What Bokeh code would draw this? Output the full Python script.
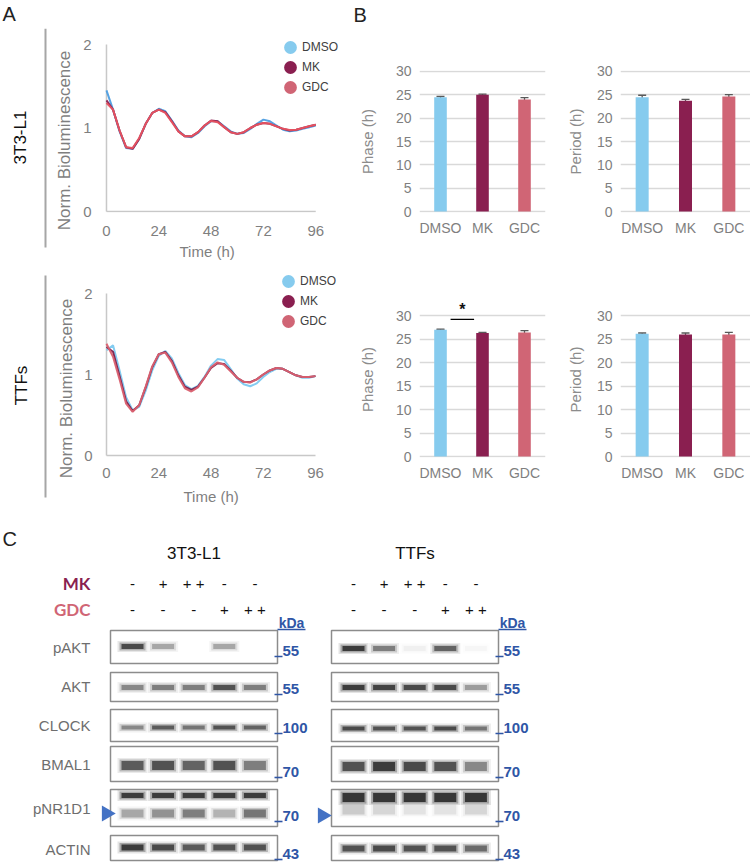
import numpy as np
from bokeh.plotting import figure
from bokeh.layouts import column, row
from bokeh.models import (Range1d, FactorRange, ColumnDataSource, Legend, LegendItem,
                          Whisker, TeeHead, Label, FixedTicker, Title)
from bokeh.core.properties import value
from bokeh.embed import file_html
from bokeh.resources import INLINE

FONT = "Liberation Sans"

# ---------------- data ----------------
time_h = list(range(0, 97, 3))
# 3T3-L1 normalised bioluminescence
l3t3_dmso = [1.45, 1.22, 0.96, 0.76, 0.75, 0.87, 1.05, 1.18, 1.23, 1.20, 1.09, 0.97, 0.90, 0.89, 0.94, 1.02, 1.08,
             1.08, 1.02, 0.96, 0.93, 0.94, 0.99, 1.05, 1.10, 1.08, 1.03, 0.98, 0.96, 0.97, 0.99, 1.01, 1.03]
l3t3_mk = [1.33, 1.22, 0.97, 0.77, 0.75, 0.87, 1.05, 1.18, 1.22, 1.19, 1.08, 0.96, 0.90, 0.90, 0.95, 1.03, 1.09,
           1.08, 1.01, 0.95, 0.93, 0.95, 1.00, 1.04, 1.06, 1.05, 1.02, 0.99, 0.97, 0.98, 1.00, 1.02, 1.04]
l3t3_gdc = [1.30, 1.22, 0.97, 0.77, 0.76, 0.88, 1.05, 1.18, 1.22, 1.18, 1.07, 0.96, 0.90, 0.90, 0.95, 1.03, 1.085,
            1.07, 1.01, 0.95, 0.93, 0.95, 1.00, 1.04, 1.06, 1.05, 1.02, 0.99, 0.975, 0.98, 1.00, 1.02, 1.04]
# TTFs normalised bioluminescence
ttf_dmso = [1.30, 1.36, 1.05, 0.72, 0.56, 0.60, 0.80, 1.05, 1.23, 1.29, 1.20, 1.02, 0.87, 0.82, 0.86, 0.97, 1.11,
            1.19, 1.18, 1.07, 0.95, 0.88, 0.855, 0.89, 0.97, 1.03, 1.07, 1.07, 1.03, 0.99, 0.96, 0.96, 0.98]
ttf_mk = [1.34, 1.28, 0.98, 0.67, 0.55, 0.62, 0.84, 1.09, 1.25, 1.28, 1.17, 0.99, 0.85, 0.81, 0.85, 0.96, 1.08,
          1.14, 1.13, 1.05, 0.96, 0.91, 0.905, 0.94, 1.00, 1.05, 1.08, 1.07, 1.03, 0.99, 0.97, 0.97, 0.98]
ttf_gdc = [1.38, 1.22, 0.94, 0.64, 0.54, 0.62, 0.85, 1.10, 1.25, 1.27, 1.15, 0.97, 0.83, 0.79, 0.84, 0.96, 1.09,
           1.15, 1.12, 1.04, 0.96, 0.91, 0.90, 0.94, 1.00, 1.05, 1.08, 1.07, 1.03, 0.99, 0.97, 0.97, 0.98]
time_ticks = [0, 24, 48, 72, 96]
lum_ticks = [0, 1, 2]

treatments = ["DMSO", "MK", "GDC"]
phase_3t3 = [24.45, 25.0, 24.0]
phase_3t3_err = [0.2, 0.15, 0.4]
period_3t3 = [24.45, 23.7, 24.65]
period_3t3_err = [0.45, 0.3, 0.4]
phase_ttf = [27.0, 26.3, 26.4]
phase_ttf_err = [0.1, 0.1, 0.4]
period_ttf = [26.15, 26.0, 26.0]
period_ttf_err = [0.15, 0.3, 0.45]
hour_ticks = [0, 5, 10, 15, 20, 25, 30]

# Western blot
blot_rows = ["pAKT", "AKT", "CLOCK", "BMAL1", "pNR1D1", "ACTIN"]
kda_marks = ["55", "55", "100", "70", "70", "43"]
mk_signs = ["-", "+", "+ +", "-", "-"]
gdc_signs = ["-", "-", "-", "+", "+ +"]
pakt_3t3 = [0.85, 0.35, 0.0, 0.35, 0.0]
akt_3t3 = [0.5, 0.55, 0.55, 0.8, 0.55]
clock_3t3 = [0.5, 0.75, 0.6, 0.8, 0.7]
bmal1_3t3 = [0.75, 0.8, 0.7, 0.8, 0.55]
pnr1d1_top_3t3 = [0.95, 0.95, 0.95, 0.95, 0.95]
pnr1d1_low_3t3 = [0.35, 0.45, 0.55, 0.3, 0.6]
actin_3t3 = [0.95, 0.85, 0.75, 0.8, 0.8]
pakt_ttf = [0.95, 0.55, 0.05, 0.7, 0.03]
akt_ttf = [0.95, 0.9, 0.85, 0.85, 0.4]
clock_ttf = [0.85, 0.8, 0.8, 0.85, 0.6]
bmal1_ttf = [0.8, 0.95, 0.85, 0.8, 0.5]
pnr1d1_top_ttf = [1.0, 1.0, 1.0, 1.0, 1.0]
pnr1d1_low_ttf = [0.2, 0.15, 0.1, 0.1, 0.15]
actin_ttf = [0.8, 0.85, 0.8, 0.8, 0.65]

# ---------------- styles ----------------
BAR_COLORS = ["#86CBEE", "#8A1F50", "#D06575"]
LINE_TOP = ["#4D9DE0", "#8A1F50", "#E8525F"]
LINE_BOT = ["#7CC9F0", "#7B1C4A", "#D9606F"]
TICK_GRAY = "#7F7F7F"
BLUE = "#2F56A6"


def no_align(p):
    try:
        p.frame_align = False
    except Exception:
        pass


def span(pa, pb, p0, v0, p1, v1):
    k = (v1 - v0) / (p1 - p0)
    return v0 + (pa - p0) * k, v0 + (pb - p0) * k


def blank_fig(w, h, xr, yr):
    p = figure(width=w, height=h, x_range=Range1d(*xr), y_range=Range1d(*yr), min_border=0,
               output_backend="svg", toolbar_location=None, x_axis_location=None, y_axis_location=None)
    p.outline_line_color = None
    p.grid.visible = False
    no_align(p)
    return p


def txt(p, x, y, s, size, color, align="left", style="normal", font=FONT, angle=0.0):
    p.text(x=x, y=y, text=s, text_font=value(font), text_font_size=size, text_color=color,
           text_align=align, text_baseline="middle", text_font_style=style, angle=angle)


def line_fig(fx, w, ry, h, frame, anchors, series, colors, legend_top_left, tick_sd, ytick_sd,
             title_offset, title_standoff):
    fl, fr, ft, fb = frame            # frame edges in page pixels
    px0, px96, py0, py2 = anchors     # page pixels of x=0, x=96, y=0, y=2
    xs, xe = span(fl, fr, px0, 0, px96, 96)
    ys, ye = span(fb, ft, py0, 0, py2, 2)
    p = figure(width=w, height=h, x_range=Range1d(xs, xe), y_range=Range1d(ys, ye),
               output_backend="svg", toolbar_location=None,
               min_border_left=fl - fx, min_border_right=fx + w - fr,
               min_border_top=ft - ry, min_border_bottom=ry + h - fb)
    no_align(p)
    p.outline_line_color = None
    p.grid.visible = False
    p.xaxis.ticker = FixedTicker(ticks=time_ticks)
    p.yaxis.ticker = FixedTicker(ticks=lum_ticks)
    for ax in p.axis:
        ax.axis_line_color = None
        ax.major_tick_line_color = None
        ax.minor_tick_line_color = None
        ax.major_tick_out = 0
        ax.major_tick_in = 0
        ax.major_label_text_font = FONT
        ax.major_label_text_font_size = "15px"
        ax.major_label_text_color = TICK_GRAY
    p.yaxis.major_label_standoff = ytick_sd
    p.xaxis.major_label_standoff = tick_sd
    # x-axis title, positioned under the data extent of the time axis
    p.add_layout(Title(text="Time (h)", align="left", offset=title_offset, standoff=title_standoff,
                       vertical_align="bottom", text_font=FONT, text_font_size="15px",
                       text_color=TICK_GRAY, text_font_style="normal"), "below")
    # axis lines spanning the data extent only
    p.segment(x0=[time_ticks[0], time_ticks[0]], y0=[lum_ticks[0], lum_ticks[0]],
              x1=[time_ticks[0], time_ticks[-1]], y1=[lum_ticks[-1], lum_ticks[0]],
              line_color="#C8C8C8", line_width=1.5)
    for vals, c in zip(series, colors):
        p.line(time_h, vals, line_color=c, line_width=2, line_alpha=0.95)
    leg_r = [p.ellipse(x=[float("nan")], y=[float("nan")], width=12, height=12, width_units="screen",
                       height_units="screen", fill_color=c, line_color=None)
             for c in BAR_COLORS]
    lx, ly = legend_top_left
    legend = Legend(items=[LegendItem(label=n, renderers=[r]) for n, r in zip(treatments, leg_r)],
                    location=(lx - fl, fb - (ly + 56)), glyph_width=16, glyph_height=16, label_height=16,
                    spacing=4, label_standoff=4, padding=0, margin=0, border_line_color=None,
                    background_fill_alpha=0, label_text_font=FONT, label_text_font_size="12px",
                    label_text_color="#404040")
    p.add_layout(legend)
    return p


def bar_fig(w, h, borders, yr, vals, errs, ylabel, lab_sd, sig=None):
    left, right, top, bottom = borders
    src = ColumnDataSource(dict(cat=treatments, val=vals,
                                upper=[v + e for v, e in zip(vals, errs)],
                                lower=[v - e for v, e in zip(vals, errs)],
                                color=BAR_COLORS))
    p = figure(width=w, height=h, x_range=FactorRange(*treatments), y_range=Range1d(*yr),
               output_backend="svg", toolbar_location=None,
               min_border_left=left, min_border_right=right, min_border_top=top, min_border_bottom=bottom)
    no_align(p)
    p.outline_line_color = None
    p.xgrid.visible = False
    p.ygrid.grid_line_color = "#D9D9D9"
    p.ygrid.grid_line_width = 1.3
    p.yaxis.ticker = FixedTicker(ticks=hour_ticks)
    for ax in p.axis:
        ax.axis_line_color = None
        ax.major_tick_line_color = None
        ax.minor_tick_line_color = None
        ax.major_tick_out = 0
        ax.major_tick_in = 0
        ax.major_label_text_font = FONT
        ax.major_label_text_font_size = "14px"
        ax.major_label_text_color = TICK_GRAY
    p.yaxis.major_label_standoff = 8
    p.xaxis.major_label_standoff = 7
    p.yaxis.axis_label = ylabel
    p.yaxis.axis_label_standoff = lab_sd
    p.yaxis.axis_label_text_font = FONT
    p.yaxis.axis_label_text_font_size = "15px"
    p.yaxis.axis_label_text_color = "#8C8C8C"
    p.yaxis.axis_label_text_font_style = "normal"
    p.vbar(x="cat", top="val", width=0.3, fill_color="color", line_color=None, source=src)
    w_ = Whisker(base="cat", upper="upper", lower="lower", source=src, line_color="#595959", line_width=1.3,
                 upper_head=TeeHead(size=8, line_color="#595959", line_width=1.3),
                 lower_head=TeeHead(size=8, line_color="#595959", line_width=1.3))
    p.add_layout(w_)
    if sig is not None:
        a, b, y = sig
        x0 = treatments.index(a) + 0.5 + 0.24
        x1 = treatments.index(b) + 0.5 - 0.2
        p.segment(x0=[x0], y0=[y], x1=[x1], y1=[y], line_color="#000000", line_width=1.3)
        p.add_layout(Label(x=(x0 + x1) / 2, y=y + 2.2, text="*", text_align="center",
                           text_baseline="middle", text_font=FONT, text_font_size="16px",
                           text_font_style="bold", text_color="#111111"))
    return p


# ---------------- top strip (page y 0-28) ----------------
ptop = blank_fig(750, 28, (0, 750), (28, 0))
txt(ptop, [2], [13], ["A"], "20px", "#222222")
txt(ptop, [353], [14], ["B"], "20px", "#222222")

# ---------------- row 1 (page y 28-264) ----------------
ps1 = blank_fig(80, 236, (0, 80), (264, 28))
ps1.segment(x0=[45], y0=[28], x1=[45], y1=[247], line_color="#A6A6A6", line_width=2)
txt(ps1, [20], [137], ["3T3-L1"], "17px", "#111111", align="center", angle=np.pi / 2)
txt(ps1, [64], [140], ["Norm. Bioluminescence"], "17px", TICK_GRAY, align="center", angle=np.pi / 2)

pl1 = line_fig(80, 275, 28, 236, (102, 345, 29, 212), (104, 315, 211, 44),
               [l3t3_dmso, l3t3_mk, l3t3_gdc], LINE_TOP, (280, 39), 13, 13, 75, 4)
pb1 = bar_fig(200, 236, (61, 10, 42, 52), (-0.2, 30.2), phase_3t3, phase_3t3_err, "Phase (h)", 17)
pb2 = bar_fig(195, 236, (65, 0, 42, 52), (-0.2, 30.2), period_3t3, period_3t3_err, "Period (h)", 10)

# ---------------- row 2 (page y 264-520) ----------------
ps2 = blank_fig(80, 256, (0, 80), (520, 264))
ps2.segment(x0=[45], y0=[275], x1=[45], y1=[497], line_color="#A6A6A6", line_width=2)
txt(ps2, [21], [385], ["TTFs"], "17px", "#111111", align="center", angle=np.pi / 2)
txt(ps2, [66], [388], ["Norm. Bioluminescence"], "17px", TICK_GRAY, align="center", angle=np.pi / 2)

pl2 = line_fig(80, 275, 264, 256, (104, 345, 264, 457), (106, 315, 455, 293),
               [ttf_dmso, ttf_mk, ttf_gdc], LINE_BOT, (280, 273), 10, 12, 79, 10)
pb3 = bar_fig(200, 256, (61, 10, 37, 63), (-0.2, 33.0), phase_ttf, phase_ttf_err, "Phase (h)", 17,
              sig=("DMSO", "MK", 29.2))
pb4 = bar_fig(195, 256, (65, 0, 37, 63), (-0.2, 33.0), period_ttf, period_ttf_err, "Period (h)", 10)

# ---------------- blot (panel C, page y 520-863) ----------------
pc = blank_fig(750, 343, (0, 750), (863, 520))
txt(pc, [2], [538], ["C"], "20px", "#222222")

panel_left = [110, 331]
panel_w = 167
panel_names = ["3T3-L1", "TTFs"]
lane_off = [22 + 30.6 * i for i in range(5)]
row_top = [630, 672, 709, 746, 789, 835]
row_bot = [663, 701, 741, 781, 826, 860]
label_y = [647, 686, 725, 764, 808, 849]
tick_y = [656, 694, 733, 777, 821, 859]

txt(pc, [90], [583], ["MK"], "17px", "#8A1F50", align="right", style="bold", font="Lato")
txt(pc, [90], [609], ["GDC"], "17px", "#D06575", align="right", style="bold", font="Lato")
txt(pc, [90] * len(blot_rows), label_y, blot_rows, "15px", "#6E6E6E", align="right")

band_sets = [
    [pakt_3t3, akt_3t3, clock_3t3, bmal1_3t3, pnr1d1_top_3t3, pnr1d1_low_3t3, actin_3t3],
    [pakt_ttf, akt_ttf, clock_ttf, bmal1_ttf, pnr1d1_top_ttf, pnr1d1_low_ttf, actin_ttf],
]
band_y = [[646, 687, 727, 765, 795, 813, 847], [648, 687, 728, 766, 797, 809, 848]]
band_h = [[5, 5, 4, 9, 5, 8, 6], [5, 5, 4, 9, 9, 10, 6]]

bx, by, bw, bh, ba = [], [], [], [], []
for k, pl in enumerate(panel_left):
    lanes = [pl + o for o in lane_off]
    cx = pl + panel_w / 2
    txt(pc, [cx], [553], [panel_names[k]], "17px", "#111111", align="center")
    txt(pc, lanes, [583] * 5, mk_signs, "15px", "#111111", align="center")
    txt(pc, lanes, [609] * 5, gdc_signs, "15px", "#111111", align="center")
    pc.quad(left=[pl] * 6, right=[pl + panel_w] * 6, top=row_top, bottom=row_bot,
            fill_color="#FFFFFF", line_color="#8C8C8C", line_width=1.5)
    kx = pl + panel_w + 14
    txt(pc, [kx], [622], ["kDa"], "14px", BLUE, align="center", style="bold")
    pc.segment(x0=[kx - 14], y0=[629], x1=[kx + 14], y1=[629], line_color=BLUE, line_width=1.5)
    pc.segment(x0=[pl + panel_w - 3] * 6, y0=tick_y, x1=[pl + panel_w + 5] * 6, y1=tick_y,
               line_color=BLUE, line_width=1.6)
    txt(pc, [pl + panel_w + 5] * 6, [t - 6 for t in tick_y], kda_marks, "15px", BLUE, style="bold")
    for r, (ints, yy, hh) in enumerate(zip(band_sets[k], band_y[k], band_h[k])):
        for lx, it in zip(lanes, ints):
            if it <= 0:
                continue
            for dw, dh, fa in ((8, 6, 0.12), (4, 3, 0.3), (0, 0, 0.75)):
                bx.append(lx)
                by.append(yy)
                bw.append(22 + dw)
                bh.append(hh + dh)
                ba.append(fa * it)

pc.rect(x="x", y="y", width="w", height="h", fill_alpha="a", fill_color="#111111", line_color=None,
        source=ColumnDataSource(dict(x=bx, y=by, w=bw, h=bh, a=ba)))
pc.scatter(x=[106, 322], y=[813, 815], marker="triangle", size=16, angle=-np.pi / 2,
           fill_color="#4472C4", line_color=None)

layout = column(ptop,
                row(ps1, pl1, pb1, pb2),
                row(ps2, pl2, pb3, pb4),
                pc)

open("out.html", "w").write(file_html(layout, INLINE))
